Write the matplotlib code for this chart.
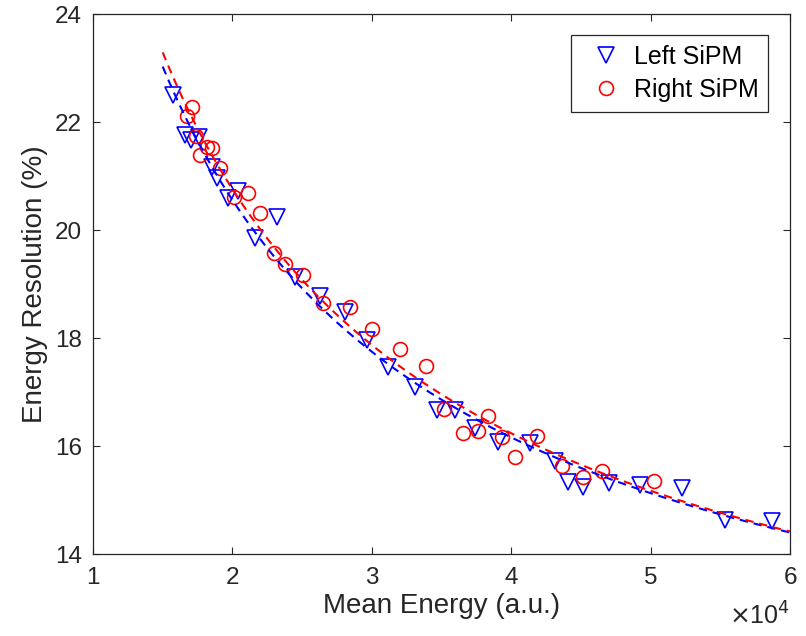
import numpy as np
import matplotlib
matplotlib.use("Agg")
import matplotlib.pyplot as plt

# Data (Mean Energy in units of 1e4 a.u., Energy Resolution in %)
left_x = [1.576, 1.66, 1.70, 1.76, 1.851, 1.887, 1.971, 2.04, 2.162, 2.318,
          2.449, 2.628, 2.808, 2.963, 3.118, 3.31, 3.465, 3.597, 3.74, 3.908,
          4.135, 4.314, 4.41, 4.517, 4.70, 4.924, 5.223, 5.534, 5.869]
left_y = [22.5, 21.76, 21.66, 21.72, 21.17, 20.96, 20.59, 20.72, 19.85, 20.24,
          19.13, 18.78, 18.48, 17.96, 17.46, 17.1, 16.67, 16.67, 16.33, 16.08,
          16.05, 15.72, 15.33, 15.25, 15.32, 15.28, 15.22, 14.63, 14.62]

right_x = [1.672, 1.708, 1.739, 1.768, 1.816, 1.855, 1.911, 2.01, 2.114, 2.20,
           2.295, 2.377, 2.509, 2.652, 2.846, 3.005, 3.202, 3.39, 3.52, 3.657,
           3.764, 3.832, 3.932, 4.03, 4.187, 4.362, 4.513, 4.649, 5.025]
right_y = [22.12, 22.27, 21.75, 21.39, 21.54, 21.51, 21.14, 20.61, 20.68, 20.31,
           19.57, 19.37, 19.16, 18.64, 18.57, 18.16, 17.79, 17.48, 16.68, 16.25,
           16.28, 16.56, 16.17, 15.8, 16.18, 15.63, 15.42, 15.54, 15.36]

fit_range = [1.5, 6.0]
x_ticks = [1, 2, 3, 4, 5, 6]
y_ticks = [14, 16, 18, 20, 22, 24]


def fit_curve(x, y, xf):
    """Least-squares fit of R = sqrt(a/E + b) (linear in R^2)."""
    x = np.asarray(x)
    y = np.asarray(y)
    A = np.column_stack([1.0 / x, np.ones_like(x)])
    (a, b), *_ = np.linalg.lstsq(A, y ** 2, rcond=None)
    return np.sqrt(a / xf + b)


plt.rcParams['font.family'] = ['Liberation Sans', 'DejaVu Sans']
text_c = '#262626'

fig = plt.figure(figsize=(8.06, 6.36), dpi=100)
ax = fig.add_axes([93 / 806, 1 - 554 / 636, 697 / 806, 540 / 636])

ax.plot(left_x, left_y, linestyle='none', marker='v', markersize=11,
        markerfacecolor='none', markeredgecolor=(0, 0, 1), markeredgewidth=1.2,
        label='Left SiPM')
ax.plot(right_x, right_y, linestyle='none', marker='o', markersize=10,
        markerfacecolor='none', markeredgecolor=(1, 0, 0), markeredgewidth=1.2,
        label='Right SiPM')

xf = np.linspace(fit_range[0], fit_range[1], 300)
ax.plot(xf, fit_curve(left_x, left_y, xf), color=(0, 0, 1), lw=1.5,
        linestyle=(0, (4, 2.8)))
ax.plot(xf, fit_curve(right_x, right_y, xf), color=(1, 0, 0), lw=1.5,
        linestyle=(0, (4, 2.8)))

ax.set_xlim(1, 6)
ax.set_ylim(14, 24)
ax.set_xticks(x_ticks)
ax.set_yticks(y_ticks)
ax.set_xticklabels([str(t) for t in x_ticks])
ax.set_yticklabels([str(t) for t in y_ticks])
ax.tick_params(direction='in', length=5, width=0.8, colors=text_c,
               labelsize=17.5, top=True, right=True)
ax.tick_params(axis='x', pad=9)
ax.tick_params(axis='y', pad=8)
for s in ax.spines.values():
    s.set_color(text_c)
    s.set_linewidth(0.9)

ax.set_xlabel('Mean Energy (a.u.)', fontsize=20, color=text_c)
ax.set_ylabel('Energy Resolution (%)', fontsize=20, color=text_c)
ax.xaxis.set_label_coords(0.5, -0.072)
ax.yaxis.set_label_coords(-0.064, 0.5)

ax.text(1.0, -0.131, r'$\times$10$^{4}$', transform=ax.transAxes, ha='right',
        va='baseline', fontsize=18, color=text_c)

leg = ax.legend(loc='upper right', bbox_to_anchor=(0.969, 0.961), fontsize=18,
                frameon=True, fancybox=False, edgecolor=text_c, framealpha=1,
                borderaxespad=0, borderpad=0.4, handletextpad=0.1,
                labelspacing=0.35, handlelength=2.0)
leg.get_frame().set_linewidth(0.9)

fig.savefig('out.png', dpi=100)
